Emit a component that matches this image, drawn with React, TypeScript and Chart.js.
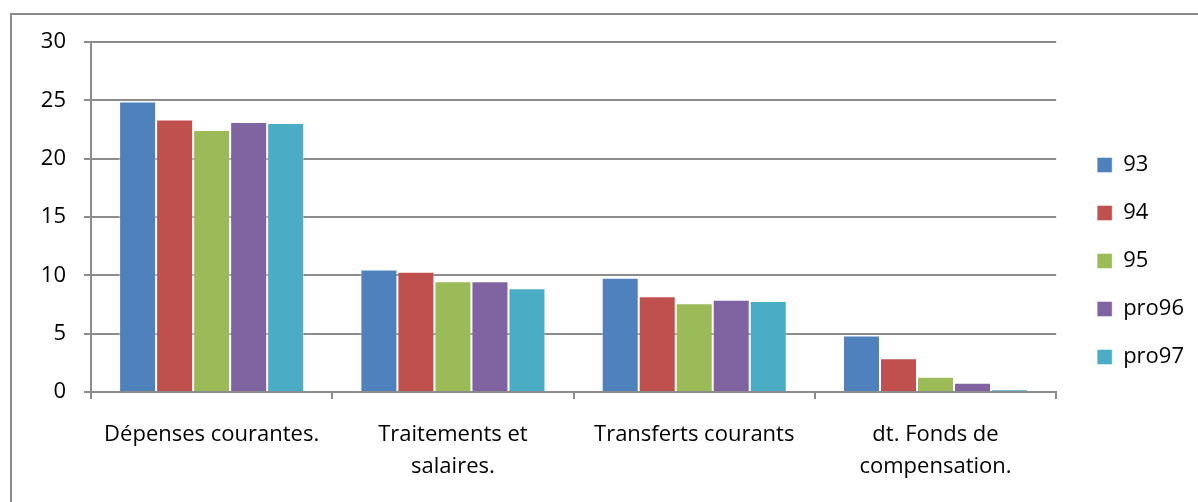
import React, { useEffect, useRef } from "react";
import { Chart, registerables } from "chart.js";

Chart.register(...registerables);

const categories: (string | string[])[] = [
  "Dépenses courantes.",
  ["Traitements et", "salaires."],
  "Transferts courants",
  ["dt. Fonds de", "compensation."],
];
const seriesNames = ["93", "94", "95", "pro96", "pro97"];
const s93 = [24.9, 10.5, 9.8, 4.85];
const s94 = [23.35, 10.3, 8.2, 2.9];
const s95 = [22.45, 9.5, 7.6, 1.3];
const sPro96 = [23.15, 9.5, 7.9, 0.8];
const sPro97 = [23.05, 8.9, 7.8, 0.2];
const colors = ["#4F81BD", "#C0504D", "#9BBB59", "#8064A2", "#4BACC6"];
const yTicks = [0, 5, 10, 15, 20, 25, 30];

const FONT = "'Open Sans'";
const GRID = "#8c8c8c";

export default function App() {
  const ref = useRef<HTMLCanvasElement | null>(null);
  useEffect(() => {
    if (!ref.current) return;
    const values = [s93, s94, s95, sPro96, sPro97];
    const chart = new Chart(ref.current, {
      type: "bar",
      data: {
        labels: categories,
        datasets: seriesNames.map((n, i) => ({
          label: n,
          data: values[i],
          backgroundColor: colors[i],
          borderColor: "rgba(255,255,255,0.45)",
          borderWidth: 1,
          categoryPercentage: 0.767,
          barPercentage: 1,
          yAxisID: "y",
        })),
      },
      options: {
        responsive: false,
        animation: false,
        layout: { padding: { top: 42, left: 0, bottom: 22, right: 4 } },
        plugins: {
          tooltip: { enabled: false },
          legend: {
            position: "right",
            labels: {
              boxWidth: 15,
              boxHeight: 15,
              padding: 26,
              color: "#000",
              font: { family: FONT, size: 22 },
            },
          },
        },
        scales: {
          x: {
            grid: {
              offset: true,
              drawOnChartArea: false,
              drawTicks: true,
              tickLength: 7,
              color: GRID,
              lineWidth: 2,
            },
            border: { color: GRID, width: 2 },
            ticks: {
              color: "#000",
              padding: 20,
              maxRotation: 0,
              autoSkip: false,
              font: { family: FONT, size: 22, lineHeight: 1.45 },
            },
            afterFit: (s: any) => {
              s.height = 88;
            },
          },
          y: {
            min: 0,
            max: 30,
            afterBuildTicks: (s: any) => {
              s.ticks = yTicks.map((v) => ({ value: v }));
            },
            grid: { color: GRID, lineWidth: 2, tickLength: 7, drawTicks: true },
            border: { color: GRID, width: 2 },
            ticks: {
              color: "#000",
              padding: 18,
              font: { family: FONT, size: 22 },
            },
            afterFit: (s: any) => {
              s.width = 91;
            },
          },
          gap: {
            type: "linear",
            position: "right",
            display: true,
            grid: { display: false, drawTicks: false },
            border: { display: false },
            ticks: { display: false },
            afterFit: (s: any) => {
              s.width = 15;
            },
          },
        },
      } as any,
    });
    return () => chart.destroy();
  }, []);
  return (
    <div
      style={{
        position: "absolute",
        left: 0,
        top: 0,
        width: 1198,
        height: 502,
        overflow: "hidden",
        background: "#fff",
      }}
    >
      <canvas ref={ref} width={1198} height={502} style={{ position: "absolute", left: 0, top: 0 }} />
      <div
        style={{
          position: "absolute",
          left: 10,
          top: 13,
          width: 1400,
          height: 700,
          border: "2px solid #8a8a8a",
          pointerEvents: "none",
        }}
      />
    </div>
  );
}
